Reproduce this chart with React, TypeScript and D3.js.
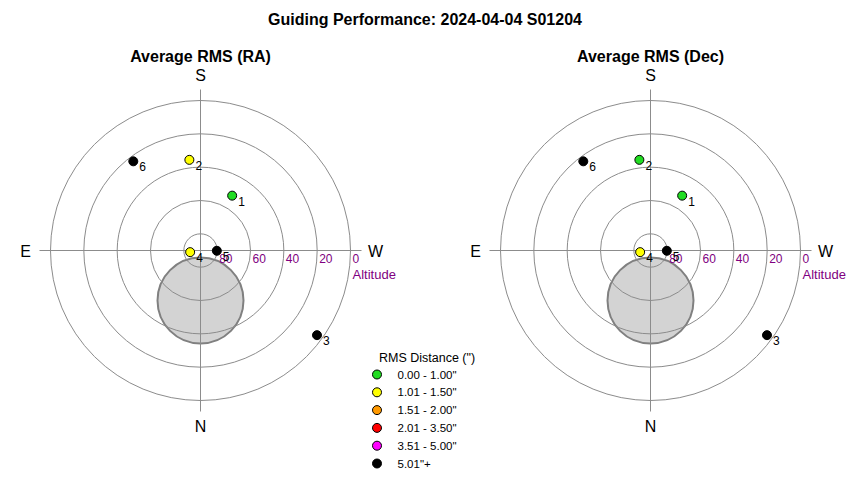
import React from "react";
import * as d3 from "d3";

const TITLE = "Guiding Performance: 2024-04-04 S01204";
const panelTitles = ["Average RMS (RA)", "Average RMS (Dec)"];
const pointIds = ["1", "2", "3", "4", "5", "6"];
const pointAz = [210, 173, 306, 81, 271, 143];
const pointAlt = [52, 35.2, 3.6, 83.7, 80.2, 23];
const rmsRA = [0.85, 1.3, 5.6, 1.2, 5.4, 5.3];
const rmsDec = [0.7, 0.9, 5.8, 1.1, 5.2, 5.5];
const ringAlts = [80, 60, 40, 20, 0];
const binLabels = ['0.00 - 1.00"', '1.01 - 1.50"', '1.51 - 2.00"', '2.01 - 3.50"', '3.51 - 5.00"', '5.01"+'];
const binEdges = [1.0, 1.5, 2.0, 3.5, 5.0];
const binColors = ["#22dd22", "#ffff00", "#ff9900", "#ff0000", "#ff00ff", "#000000"];
const zoneAz = 0;
const zoneAlt = 60;
const zoneRadiusDeg = 25.8;

const W = 850, H = 480;
const R = 150;
const FONT = "'Liberation Sans', Arial, sans-serif";

const rScale = d3.scaleLinear().domain([90, 0]).range([0, R]);
const colorScale = d3.scaleThreshold<number, string>().domain(binEdges).range(binColors);

function project(az: number, alt: number) {
  const r = rScale(alt);
  const a = (az * Math.PI) / 180;
  return [-r * Math.sin(a), r * Math.cos(a)];
}

function Panel({ cx, cy, title, rms }: { cx: number; cy: number; title: string; rms: number[] }) {
  const [zx, zy] = project(zoneAz, zoneAlt);
  const zr = rScale(90 - zoneRadiusDeg);
  const axisLen = 161;
  const grid = "#8c8c8c";
  return (
    <g transform={`translate(${cx},${cy})`}>
      <text x={0} y={-189} textAnchor="middle" fontSize={16} fontWeight="bold" fontFamily={FONT}>{title}</text>
      <circle cx={zx} cy={zy} r={zr} fill="#d3d3d3" stroke="#808080" strokeWidth={2} />
      {ringAlts.map((a) => (
        <circle key={a} cx={0} cy={0} r={rScale(a)} fill="none" stroke={grid} strokeWidth={1} />
      ))}
      <line x1={-axisLen} x2={axisLen} y1={0} y2={0} stroke={grid} strokeWidth={1} />
      <line x1={0} x2={0} y1={-axisLen} y2={axisLen} stroke={grid} strokeWidth={1} />
      {ringAlts.map((a) => (
        <text key={a} x={rScale(a) + 2} y={12} fontSize={12} fill="#800080" fontFamily={FONT}>{a}</text>
      ))}
      <text x={R + 2} y={28} fontSize={13} fill="#800080" fontFamily={FONT}>Altitude</text>
      <text x={0} y={-170} textAnchor="middle" fontSize={16} fontFamily={FONT}>S</text>
      <text x={0} y={181} textAnchor="middle" fontSize={16} fontFamily={FONT}>N</text>
      <text x={-175} y={6} textAnchor="middle" fontSize={16} fontFamily={FONT}>E</text>
      <text x={175} y={6} textAnchor="middle" fontSize={16} fontFamily={FONT}>W</text>
      {pointIds.map((id, i) => {
        const [x, y] = project(pointAz[i], pointAlt[i]);
        return (
          <g key={id}>
            <circle cx={x} cy={y} r={4.5} fill={colorScale(rms[i])} stroke="#000" strokeWidth={1} />
            <text x={x + 6} y={y + 10} fontSize={12} fontFamily={FONT} fill="#000">{id}</text>
          </g>
        );
      })}
    </g>
  );
}

function Legend({ x, y }: { x: number; y: number }) {
  const step = 17.8;
  return (
    <g transform={`translate(${x},${y})`}>
      <text x={2} y={0} fontSize={12.5} fontFamily={FONT}>RMS Distance (")</text>
      {binLabels.map((lab, i) => (
        <g key={lab} transform={`translate(0,${12.5 + i * step})`}>
          <circle cx={0} cy={0} r={4.5} fill={binColors[i]} stroke="#000" strokeWidth={1} />
          <text x={20.5} y={4} fontSize={11.5} fontFamily={FONT}>{lab}</text>
        </g>
      ))}
    </g>
  );
}

export default function App() {
  return (
    <svg width={W} height={H} style={{ position: "absolute", left: 0, top: 0, background: "#fff" }}>
      <rect width={W} height={H} fill="#fff" />
      <text x={425} y={25} textAnchor="middle" fontSize={16} fontWeight="bold" fontFamily={FONT}>{TITLE}</text>
      <Panel cx={200.5} cy={250.5} title={panelTitles[0]} rms={rmsRA} />
      <Panel cx={650.5} cy={250.5} title={panelTitles[1]} rms={rmsDec} />
      <Legend x={377} y={362} />
    </svg>
  );
}
